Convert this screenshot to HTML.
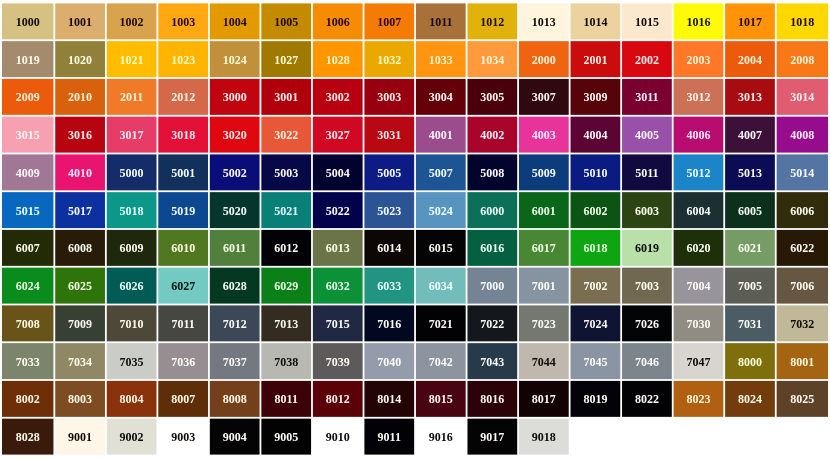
<!DOCTYPE html>
<html><head><meta charset="utf-8"><title>RAL</title>
<style>
html,body{margin:0;padding:0;background:#fff}
svg{display:block}
text{font-family:"Liberation Serif","Times New Roman",serif;font-weight:bold;font-size:12px;text-anchor:middle}
</style></head><body>
<svg width="830" height="458" viewBox="0 0 830 458">
<rect width="830" height="458" fill="#ffffff"/>
<rect x="2.00" y="3.40" width="51.43" height="35.95" fill="#D5C282"/><text fill="#120A00" x="27.71" y="25.88">1000</text>
<rect x="55.23" y="3.40" width="49.73" height="35.95" fill="#DCAE6E"/><text fill="#180800" x="80.09" y="25.88">1001</text>
<rect x="106.76" y="3.40" width="49.73" height="35.95" fill="#D9A24C"/><text fill="#1A0800" x="131.62" y="25.88">1002</text>
<rect x="158.29" y="3.40" width="49.73" height="35.95" fill="#FFA812"/><text fill="#230700" x="183.16" y="25.88">1003</text>
<rect x="209.82" y="3.40" width="49.73" height="35.95" fill="#E39A00"/><text fill="#200900" x="234.69" y="25.88">1004</text>
<rect x="261.35" y="3.40" width="49.73" height="35.95" fill="#C48A00"/><text fill="#1D0900" x="286.22" y="25.88">1005</text>
<rect x="312.88" y="3.40" width="49.73" height="35.95" fill="#F68C04"/><text fill="#270500" x="337.75" y="25.88">1006</text>
<rect x="364.41" y="3.40" width="49.73" height="35.95" fill="#F47C04"/><text fill="#290300" x="389.28" y="25.88">1007</text>
<rect x="415.94" y="3.40" width="49.73" height="35.95" fill="#A9713A"/><text fill="#1A0700" x="440.81" y="25.88">1011</text>
<rect x="467.47" y="3.40" width="49.73" height="35.95" fill="#E1B20C"/><text fill="#1B0B00" x="492.33" y="25.88">1012</text>
<rect x="519.00" y="3.40" width="49.73" height="35.95" fill="#FFF4DE"/><text fill="#0F0A01" x="543.87" y="25.88">1013</text>
<rect x="570.53" y="3.40" width="49.73" height="35.95" fill="#EBD29E"/><text fill="#130900" x="595.39" y="25.88">1014</text>
<rect x="622.06" y="3.40" width="49.73" height="35.95" fill="#FCE8CC"/><text fill="#110900" x="646.92" y="25.88">1015</text>
<rect x="673.59" y="3.40" width="49.73" height="35.95" fill="#FFFA08"/><text fill="#151200" x="698.45" y="25.88">1016</text>
<rect x="725.12" y="3.40" width="49.73" height="35.95" fill="#FF9408"/><text fill="#270500" x="749.99" y="25.88">1017</text>
<rect x="776.65" y="3.40" width="51.35" height="35.95" fill="#FFD800"/><text fill="#1B0E00" x="802.33" y="25.88">1018</text>
<rect x="2.00" y="41.15" width="51.43" height="35.95" fill="#A48B6E"/><text fill="#FFFBEC" x="27.71" y="63.62">1019</text>
<rect x="55.23" y="41.15" width="49.73" height="35.95" fill="#90803A"/><text fill="#FFFDE2" x="80.09" y="63.62">1020</text>
<rect x="106.76" y="41.15" width="49.73" height="35.95" fill="#FFBC00"/><text fill="#FFFCBE" x="131.62" y="63.62">1021</text>
<rect x="158.29" y="41.15" width="49.73" height="35.95" fill="#FFB400"/><text fill="#FFFBBF" x="183.16" y="63.62">1023</text>
<rect x="209.82" y="41.15" width="49.73" height="35.95" fill="#C0903A"/><text fill="#FFFBDB" x="234.69" y="63.62">1024</text>
<rect x="261.35" y="41.15" width="49.73" height="35.95" fill="#A07A00"/><text fill="#FFFDD2" x="286.22" y="63.62">1027</text>
<rect x="312.88" y="41.15" width="49.73" height="35.95" fill="#FF9600"/><text fill="#FFF8C4" x="337.75" y="63.62">1028</text>
<rect x="364.41" y="41.15" width="49.73" height="35.95" fill="#EBA800"/><text fill="#FFFCC3" x="389.28" y="63.62">1032</text>
<rect x="415.94" y="41.15" width="49.73" height="35.95" fill="#FF9410"/><text fill="#FFF7C9" x="440.81" y="63.62">1033</text>
<rect x="467.47" y="41.15" width="49.73" height="35.95" fill="#FF9A3C"/><text fill="#FFF6D4" x="492.33" y="63.62">1034</text>
<rect x="519.00" y="41.15" width="49.73" height="35.95" fill="#F06410"/><text fill="#FFF2D3" x="543.87" y="63.62">2000</text>
<rect x="570.53" y="41.15" width="49.73" height="35.95" fill="#CA0C0C"/><text fill="#FFEBE5" x="595.39" y="63.62">2001</text>
<rect x="622.06" y="41.15" width="49.73" height="35.95" fill="#D80810"/><text fill="#FFE9E5" x="646.92" y="63.62">2002</text>
<rect x="673.59" y="41.15" width="49.73" height="35.95" fill="#FF7828"/><text fill="#FFF2D4" x="698.45" y="63.62">2003</text>
<rect x="725.12" y="41.15" width="49.73" height="35.95" fill="#EC5A0C"/><text fill="#FFF1D4" x="749.99" y="63.62">2004</text>
<rect x="776.65" y="41.15" width="51.35" height="35.95" fill="#F87818"/><text fill="#FFF4D1" x="802.33" y="63.62">2008</text>
<rect x="2.00" y="78.90" width="51.43" height="35.95" fill="#EC5A0C"/><text fill="#FFF1D4" x="27.71" y="101.38">2009</text>
<rect x="55.23" y="78.90" width="49.73" height="35.95" fill="#D9600C"/><text fill="#FFF4D5" x="80.09" y="101.38">2010</text>
<rect x="106.76" y="78.90" width="49.73" height="35.95" fill="#F07A28"/><text fill="#FFF4D5" x="131.62" y="101.38">2011</text>
<rect x="158.29" y="78.90" width="49.73" height="35.95" fill="#D6684A"/><text fill="#FFF3E4" x="183.16" y="101.38">2012</text>
<rect x="209.82" y="78.90" width="49.73" height="35.95" fill="#C00410"/><text fill="#FFEBE8" x="234.69" y="101.38">3000</text>
<rect x="261.35" y="78.90" width="49.73" height="35.95" fill="#B0000C"/><text fill="#FFECE9" x="286.22" y="101.38">3001</text>
<rect x="312.88" y="78.90" width="49.73" height="35.95" fill="#B80010"/><text fill="#FFEBEA" x="337.75" y="101.38">3002</text>
<rect x="364.41" y="78.90" width="49.73" height="35.95" fill="#98000F"/><text fill="#FFEEEC" x="389.28" y="101.38">3003</text>
<rect x="415.94" y="78.90" width="49.73" height="35.95" fill="#640008"/><text fill="#FFF3EF" x="440.81" y="101.38">3004</text>
<rect x="467.47" y="78.90" width="49.73" height="35.95" fill="#4A000A"/><text fill="#FFF5F2" x="492.33" y="101.38">3005</text>
<rect x="519.00" y="78.90" width="49.73" height="35.95" fill="#300810"/><text fill="#FFF8F5" x="543.87" y="101.38">3007</text>
<rect x="570.53" y="78.90" width="49.73" height="35.95" fill="#56040A"/><text fill="#FFF4F0" x="595.39" y="101.38">3009</text>
<rect x="622.06" y="78.90" width="49.73" height="35.95" fill="#7A0030"/><text fill="#FFEFF8" x="646.92" y="101.38">3011</text>
<rect x="673.59" y="78.90" width="49.73" height="35.95" fill="#CC7058"/><text fill="#FFF5E7" x="698.45" y="101.38">3012</text>
<rect x="725.12" y="78.90" width="49.73" height="35.95" fill="#A80C10"/><text fill="#FFEEE9" x="749.99" y="101.38">3013</text>
<rect x="776.65" y="78.90" width="51.35" height="35.95" fill="#E05C70"/><text fill="#FFEFEF" x="802.33" y="101.38">3014</text>
<rect x="2.00" y="116.65" width="51.43" height="35.95" fill="#F7A0B2"/><text fill="#FFF4F3" x="27.71" y="139.12">3015</text>
<rect x="55.23" y="116.65" width="49.73" height="35.95" fill="#B80410"/><text fill="#FFEBE9" x="80.09" y="139.12">3016</text>
<rect x="106.76" y="116.65" width="49.73" height="35.95" fill="#E83C68"/><text fill="#FFEBF2" x="131.62" y="139.12">3017</text>
<rect x="158.29" y="116.65" width="49.73" height="35.95" fill="#E41038"/><text fill="#FFE8EE" x="183.16" y="139.12">3018</text>
<rect x="209.82" y="116.65" width="49.73" height="35.95" fill="#E00810"/><text fill="#FFE8E5" x="234.69" y="139.12">3020</text>
<rect x="261.35" y="116.65" width="49.73" height="35.95" fill="#E85838"/><text fill="#FFF0E0" x="286.22" y="139.12">3022</text>
<rect x="312.88" y="116.65" width="49.73" height="35.95" fill="#D00824"/><text fill="#FFE9EB" x="337.75" y="139.12">3027</text>
<rect x="364.41" y="116.65" width="49.73" height="35.95" fill="#B80814"/><text fill="#FFECE9" x="389.28" y="139.12">3031</text>
<rect x="415.94" y="116.65" width="49.73" height="35.95" fill="#9A4C8C"/><text fill="#FFF3FF" x="440.81" y="139.12">4001</text>
<rect x="467.47" y="116.65" width="49.73" height="35.95" fill="#A8042C"/><text fill="#FFECF2" x="492.33" y="139.12">4002</text>
<rect x="519.00" y="116.65" width="49.73" height="35.95" fill="#E8349A"/><text fill="#FFE8FF" x="543.87" y="139.12">4003</text>
<rect x="570.53" y="116.65" width="49.73" height="35.95" fill="#5C0434"/><text fill="#FFF2FB" x="595.39" y="139.12">4004</text>
<rect x="622.06" y="116.65" width="49.73" height="35.95" fill="#9850A8"/><text fill="#FFF3FF" x="646.92" y="139.12">4005</text>
<rect x="673.59" y="116.65" width="49.73" height="35.95" fill="#B80C70"/><text fill="#FFE9FF" x="698.45" y="139.12">4006</text>
<rect x="725.12" y="116.65" width="49.73" height="35.95" fill="#3C1038"/><text fill="#FFF7FD" x="749.99" y="139.12">4007</text>
<rect x="776.65" y="116.65" width="51.35" height="35.95" fill="#960C8C"/><text fill="#FFEBFF" x="802.33" y="139.12">4008</text>
<rect x="2.00" y="154.40" width="51.43" height="35.95" fill="#A07896"/><text fill="#FFF7FA" x="27.71" y="176.88">4009</text>
<rect x="55.23" y="154.40" width="49.73" height="35.95" fill="#E81470"/><text fill="#FFE6FB" x="80.09" y="176.88">4010</text>
<rect x="106.76" y="154.40" width="49.73" height="35.95" fill="#142C68"/><text fill="#F8FCFF" x="131.62" y="176.88">5000</text>
<rect x="158.29" y="154.40" width="49.73" height="35.95" fill="#12305C"/><text fill="#F7FDFF" x="183.16" y="176.88">5001</text>
<rect x="209.82" y="154.40" width="49.73" height="35.95" fill="#0A0C78"/><text fill="#FBF9FF" x="234.69" y="176.88">5002</text>
<rect x="261.35" y="154.40" width="49.73" height="35.95" fill="#060848"/><text fill="#FCFAFF" x="286.22" y="176.88">5003</text>
<rect x="312.88" y="154.40" width="49.73" height="35.95" fill="#02022E"/><text fill="#FEFBFF" x="337.75" y="176.88">5004</text>
<rect x="364.41" y="154.40" width="49.73" height="35.95" fill="#0C1C84"/><text fill="#F8FAFF" x="389.28" y="176.88">5005</text>
<rect x="415.94" y="154.40" width="49.73" height="35.95" fill="#1C5494"/><text fill="#F1FFFF" x="440.81" y="176.88">5007</text>
<rect x="467.47" y="154.40" width="49.73" height="35.95" fill="#02042E"/><text fill="#FDFBFF" x="492.33" y="176.88">5008</text>
<rect x="519.00" y="154.40" width="49.73" height="35.95" fill="#0C3C7C"/><text fill="#F3FEFF" x="543.87" y="176.88">5009</text>
<rect x="570.53" y="154.40" width="49.73" height="35.95" fill="#0A1C82"/><text fill="#F8FAFF" x="595.39" y="176.88">5010</text>
<rect x="622.06" y="154.40" width="49.73" height="35.95" fill="#100A40"/><text fill="#FEFAFF" x="646.92" y="176.88">5011</text>
<rect x="673.59" y="154.40" width="49.73" height="35.95" fill="#1C84C8"/><text fill="#E7FFFF" x="698.45" y="176.88">5012</text>
<rect x="725.12" y="154.40" width="49.73" height="35.95" fill="#0C0C54"/><text fill="#FDFAFF" x="749.99" y="176.88">5013</text>
<rect x="776.65" y="154.40" width="51.35" height="35.95" fill="#5474A4"/><text fill="#F7FDFF" x="802.33" y="176.88">5014</text>
<rect x="2.00" y="192.15" width="51.43" height="35.95" fill="#0868C0"/><text fill="#E8FFFF" x="27.71" y="214.62">5015</text>
<rect x="55.23" y="192.15" width="49.73" height="35.95" fill="#0C30A0"/><text fill="#F4FCFF" x="80.09" y="214.62">5017</text>
<rect x="106.76" y="192.15" width="49.73" height="35.95" fill="#0C9888"/><text fill="#E2FFFE" x="131.62" y="214.62">5018</text>
<rect x="158.29" y="192.15" width="49.73" height="35.95" fill="#0C4890"/><text fill="#F0FFFF" x="183.16" y="214.62">5019</text>
<rect x="209.82" y="192.15" width="49.73" height="35.95" fill="#04362E"/><text fill="#F5FFF8" x="234.69" y="214.62">5020</text>
<rect x="261.35" y="192.15" width="49.73" height="35.95" fill="#088078"/><text fill="#E6FFFF" x="286.22" y="214.62">5021</text>
<rect x="312.88" y="192.15" width="49.73" height="35.95" fill="#02024C"/><text fill="#FDFAFF" x="337.75" y="214.62">5022</text>
<rect x="364.41" y="192.15" width="49.73" height="35.95" fill="#2C5494"/><text fill="#F4FDFF" x="389.28" y="214.62">5023</text>
<rect x="415.94" y="192.15" width="49.73" height="35.95" fill="#5894C0"/><text fill="#F1FFFF" x="440.81" y="214.62">5024</text>
<rect x="467.47" y="192.15" width="49.73" height="35.95" fill="#0C7058"/><text fill="#EBFFF9" x="492.33" y="214.62">6000</text>
<rect x="519.00" y="192.15" width="49.73" height="35.95" fill="#0A6618"/><text fill="#EEFFE9" x="543.87" y="214.62">6001</text>
<rect x="570.53" y="192.15" width="49.73" height="35.95" fill="#0C5414"/><text fill="#F2FFEB" x="595.39" y="214.62">6002</text>
<rect x="622.06" y="192.15" width="49.73" height="35.95" fill="#2C4414"/><text fill="#FCFFEB" x="646.92" y="214.62">6003</text>
<rect x="673.59" y="192.15" width="49.73" height="35.95" fill="#1C3034"/><text fill="#FBFEF9" x="698.45" y="214.62">6004</text>
<rect x="725.12" y="192.15" width="49.73" height="35.95" fill="#0C301C"/><text fill="#F8FFF4" x="749.99" y="214.62">6005</text>
<rect x="776.65" y="192.15" width="51.35" height="35.95" fill="#302C0C"/><text fill="#FFFDED" x="802.33" y="214.62">6006</text>
<rect x="2.00" y="229.90" width="51.43" height="35.95" fill="#222A06"/><text fill="#FFFEED" x="27.71" y="252.38">6007</text>
<rect x="55.23" y="229.90" width="49.73" height="35.95" fill="#281C08"/><text fill="#FFFCF0" x="80.09" y="252.38">6008</text>
<rect x="106.76" y="229.90" width="49.73" height="35.95" fill="#1E280C"/><text fill="#FEFEEF" x="131.62" y="252.38">6009</text>
<rect x="158.29" y="229.90" width="49.73" height="35.95" fill="#507820"/><text fill="#FAFFE2" x="183.16" y="252.38">6010</text>
<rect x="209.82" y="229.90" width="49.73" height="35.95" fill="#50803C"/><text fill="#F7FFE8" x="234.69" y="252.38">6011</text>
<rect x="261.35" y="229.90" width="49.73" height="35.95" fill="#020206"/><text fill="#FFFCF7" x="286.22" y="252.38">6012</text>
<rect x="312.88" y="229.90" width="49.73" height="35.95" fill="#6A7446"/><text fill="#FEFEEB" x="337.75" y="252.38">6013</text>
<rect x="364.41" y="229.90" width="49.73" height="35.95" fill="#0C0604"/><text fill="#FFFCF5" x="389.28" y="252.38">6014</text>
<rect x="415.94" y="229.90" width="49.73" height="35.95" fill="#040404"/><text fill="#FFFCF6" x="440.81" y="252.38">6015</text>
<rect x="467.47" y="229.90" width="49.73" height="35.95" fill="#046040"/><text fill="#EDFFF6" x="492.33" y="252.38">6016</text>
<rect x="519.00" y="229.90" width="49.73" height="35.95" fill="#488834"/><text fill="#F4FFE5" x="543.87" y="252.38">6017</text>
<rect x="570.53" y="229.90" width="49.73" height="35.95" fill="#0EA412"/><text fill="#E4FFDD" x="595.39" y="252.38">6018</text>
<rect x="622.06" y="229.90" width="49.73" height="35.95" fill="#B8E0A8"/><text fill="#050F00" x="646.92" y="252.38">6019</text>
<rect x="673.59" y="229.90" width="49.73" height="35.95" fill="#1E300A"/><text fill="#FCFFED" x="698.45" y="252.38">6020</text>
<rect x="725.12" y="229.90" width="49.73" height="35.95" fill="#749C64"/><text fill="#F8FFEB" x="749.99" y="252.38">6021</text>
<rect x="776.65" y="229.90" width="51.35" height="35.95" fill="#281806"/><text fill="#FFFBF0" x="802.33" y="252.38">6022</text>
<rect x="2.00" y="267.65" width="51.43" height="35.95" fill="#0A8C1C"/><text fill="#E7FFE4" x="27.71" y="290.12">6024</text>
<rect x="55.23" y="267.65" width="49.73" height="35.95" fill="#2E740A"/><text fill="#F4FFE0" x="80.09" y="290.12">6025</text>
<rect x="106.76" y="267.65" width="49.73" height="35.95" fill="#005C54"/><text fill="#ECFFFC" x="131.62" y="290.12">6026</text>
<rect x="158.29" y="267.65" width="49.73" height="35.95" fill="#72CAC2"/><text fill="#00120E" x="183.16" y="290.12">6027</text>
<rect x="209.82" y="267.65" width="49.73" height="35.95" fill="#043820"/><text fill="#F5FFF4" x="234.69" y="290.12">6028</text>
<rect x="261.35" y="267.65" width="49.73" height="35.95" fill="#0C8018"/><text fill="#EAFFE5" x="286.22" y="290.12">6029</text>
<rect x="312.88" y="267.65" width="49.73" height="35.95" fill="#0C9038"/><text fill="#E6FFEA" x="337.75" y="290.12">6032</text>
<rect x="364.41" y="267.65" width="49.73" height="35.95" fill="#229482"/><text fill="#E8FFFB" x="389.28" y="290.12">6033</text>
<rect x="415.94" y="267.65" width="49.73" height="35.95" fill="#72BCBC"/><text fill="#EFFFFD" x="440.81" y="290.12">6034</text>
<rect x="467.47" y="267.65" width="49.73" height="35.95" fill="#748494"/><text fill="#FBFDFC" x="492.33" y="290.12">7000</text>
<rect x="519.00" y="267.65" width="49.73" height="35.95" fill="#8694A2"/><text fill="#FCFDFB" x="543.87" y="290.12">7001</text>
<rect x="570.53" y="267.65" width="49.73" height="35.95" fill="#7A6E52"/><text fill="#FFFCED" x="595.39" y="290.12">7002</text>
<rect x="622.06" y="267.65" width="49.73" height="35.95" fill="#706850"/><text fill="#FFFCEF" x="646.92" y="290.12">7003</text>
<rect x="673.59" y="267.65" width="49.73" height="35.95" fill="#98949C"/><text fill="#FFFBF8" x="698.45" y="290.12">7004</text>
<rect x="725.12" y="267.65" width="49.73" height="35.95" fill="#5C5E56"/><text fill="#FFFCF4" x="749.99" y="290.12">7005</text>
<rect x="776.65" y="267.65" width="51.35" height="35.95" fill="#665642"/><text fill="#FFFBEF" x="802.33" y="290.12">7006</text>
<rect x="2.00" y="305.40" width="51.43" height="35.95" fill="#685418"/><text fill="#FFFCE4" x="27.71" y="327.88">7008</text>
<rect x="55.23" y="305.40" width="49.73" height="35.95" fill="#384034"/><text fill="#FEFDF4" x="80.09" y="327.88">7009</text>
<rect x="106.76" y="305.40" width="49.73" height="35.95" fill="#4E4838"/><text fill="#FFFCF1" x="131.62" y="327.88">7010</text>
<rect x="158.29" y="305.40" width="49.73" height="35.95" fill="#464642"/><text fill="#FFFCF5" x="183.16" y="327.88">7011</text>
<rect x="209.82" y="305.40" width="49.73" height="35.95" fill="#3C4858"/><text fill="#FCFDFB" x="234.69" y="327.88">7012</text>
<rect x="261.35" y="305.40" width="49.73" height="35.95" fill="#342C20"/><text fill="#FFFCF2" x="286.22" y="327.88">7013</text>
<rect x="312.88" y="305.40" width="49.73" height="35.95" fill="#202844"/><text fill="#FCFCFE" x="337.75" y="327.88">7015</text>
<rect x="364.41" y="305.40" width="49.73" height="35.95" fill="#020820"/><text fill="#FDFCFD" x="389.28" y="327.88">7016</text>
<rect x="415.94" y="305.40" width="49.73" height="35.95" fill="#020204"/><text fill="#FFFCF7" x="440.81" y="327.88">7021</text>
<rect x="467.47" y="305.40" width="49.73" height="35.95" fill="#14181C"/><text fill="#FEFCF7" x="492.33" y="327.88">7022</text>
<rect x="519.00" y="305.40" width="49.73" height="35.95" fill="#747870"/><text fill="#FEFDF4" x="543.87" y="327.88">7023</text>
<rect x="570.53" y="305.40" width="49.73" height="35.95" fill="#0E1432"/><text fill="#FDFCFF" x="595.39" y="327.88">7024</text>
<rect x="622.06" y="305.40" width="49.73" height="35.95" fill="#020406"/><text fill="#FFFCF7" x="646.92" y="327.88">7026</text>
<rect x="673.59" y="305.40" width="49.73" height="35.95" fill="#908C84"/><text fill="#FFFCF4" x="698.45" y="327.88">7030</text>
<rect x="725.12" y="305.40" width="49.73" height="35.95" fill="#4C5C64"/><text fill="#FBFDFA" x="749.99" y="327.88">7031</text>
<rect x="776.65" y="305.40" width="51.35" height="35.95" fill="#C0B898"/><text fill="#0F0A00" x="802.33" y="327.88">7032</text>
<rect x="2.00" y="343.15" width="51.43" height="35.95" fill="#7C846C"/><text fill="#FEFEF0" x="27.71" y="365.62">7033</text>
<rect x="55.23" y="343.15" width="49.73" height="35.95" fill="#908864"/><text fill="#FFFCEC" x="80.09" y="365.62">7034</text>
<rect x="106.76" y="343.15" width="49.73" height="35.95" fill="#CACCC8"/><text fill="#0C0A07" x="131.62" y="365.62">7035</text>
<rect x="158.29" y="343.15" width="49.73" height="35.95" fill="#968E90"/><text fill="#FFFBF6" x="183.16" y="365.62">7036</text>
<rect x="209.82" y="343.15" width="49.73" height="35.95" fill="#747880"/><text fill="#FEFCF8" x="234.69" y="365.62">7037</text>
<rect x="261.35" y="343.15" width="49.73" height="35.95" fill="#B8B8B2"/><text fill="#0C0A06" x="286.22" y="365.62">7038</text>
<rect x="312.88" y="343.15" width="49.73" height="35.95" fill="#5C5A5A"/><text fill="#FFFCF6" x="337.75" y="365.62">7039</text>
<rect x="364.41" y="343.15" width="49.73" height="35.95" fill="#949CAC"/><text fill="#FDFCFB" x="389.28" y="365.62">7040</text>
<rect x="415.94" y="343.15" width="49.73" height="35.95" fill="#8C94A0"/><text fill="#FDFCFA" x="440.81" y="365.62">7042</text>
<rect x="467.47" y="343.15" width="49.73" height="35.95" fill="#263A4A"/><text fill="#FAFDFC" x="492.33" y="365.62">7043</text>
<rect x="519.00" y="343.15" width="49.73" height="35.95" fill="#C0B8AE"/><text fill="#0E0A05" x="543.87" y="365.62">7044</text>
<rect x="570.53" y="343.15" width="49.73" height="35.95" fill="#8A94A2"/><text fill="#FCFCFB" x="595.39" y="365.62">7045</text>
<rect x="622.06" y="343.15" width="49.73" height="35.95" fill="#7C848C"/><text fill="#FDFCF9" x="646.92" y="365.62">7046</text>
<rect x="673.59" y="343.15" width="49.73" height="35.95" fill="#D8D4D0"/><text fill="#0D0A07" x="698.45" y="365.62">7047</text>
<rect x="725.12" y="343.15" width="49.73" height="35.95" fill="#7E6E0C"/><text fill="#FFFEDA" x="749.99" y="365.62">8000</text>
<rect x="776.65" y="343.15" width="51.35" height="35.95" fill="#A46412"/><text fill="#FFF9DA" x="802.33" y="365.62">8001</text>
<rect x="2.00" y="380.90" width="51.43" height="35.95" fill="#6E2E08"/><text fill="#FFF7E6" x="27.71" y="403.38">8002</text>
<rect x="55.23" y="380.90" width="49.73" height="35.95" fill="#7E4C22"/><text fill="#FFF9E6" x="80.09" y="403.38">8003</text>
<rect x="106.76" y="380.90" width="49.73" height="35.95" fill="#8A320C"/><text fill="#FFF5E4" x="131.62" y="403.38">8004</text>
<rect x="158.29" y="380.90" width="49.73" height="35.95" fill="#5E2E08"/><text fill="#FFF9E8" x="183.16" y="403.38">8007</text>
<rect x="209.82" y="380.90" width="49.73" height="35.95" fill="#74401C"/><text fill="#FFF9E8" x="234.69" y="403.38">8008</text>
<rect x="261.35" y="380.90" width="49.73" height="35.95" fill="#3C0208"/><text fill="#FFF7F2" x="286.22" y="403.38">8011</text>
<rect x="312.88" y="380.90" width="49.73" height="35.95" fill="#5A0208"/><text fill="#FFF4F0" x="337.75" y="403.38">8012</text>
<rect x="364.41" y="380.90" width="49.73" height="35.95" fill="#220404"/><text fill="#FFF9F3" x="389.28" y="403.38">8014</text>
<rect x="415.94" y="380.90" width="49.73" height="35.95" fill="#480410"/><text fill="#FFF5F3" x="440.81" y="403.38">8015</text>
<rect x="467.47" y="380.90" width="49.73" height="35.95" fill="#2A0208"/><text fill="#FFF8F4" x="492.33" y="403.38">8016</text>
<rect x="519.00" y="380.90" width="49.73" height="35.95" fill="#120204"/><text fill="#FFFAF5" x="543.87" y="403.38">8017</text>
<rect x="570.53" y="380.90" width="49.73" height="35.95" fill="#020208"/><text fill="#FFFCF8" x="595.39" y="403.38">8019</text>
<rect x="622.06" y="380.90" width="49.73" height="35.95" fill="#020204"/><text fill="#FFFCF7" x="646.92" y="403.38">8022</text>
<rect x="673.59" y="380.90" width="49.73" height="35.95" fill="#B06010"/><text fill="#FFF7D9" x="698.45" y="403.38">8023</text>
<rect x="725.12" y="380.90" width="49.73" height="35.95" fill="#723C0C"/><text fill="#FFF9E4" x="749.99" y="403.38">8024</text>
<rect x="776.65" y="380.90" width="51.35" height="35.95" fill="#5E4228"/><text fill="#FFFAED" x="802.33" y="403.38">8025</text>
<rect x="2.00" y="418.65" width="51.43" height="35.95" fill="#3A1A0A"/><text fill="#FFFAEF" x="27.71" y="441.12">8028</text>
<rect x="55.23" y="418.65" width="49.73" height="35.95" fill="#FEF6E6"/><text fill="#0E0A03" x="80.09" y="441.12">9001</text>
<rect x="106.76" y="418.65" width="49.73" height="35.95" fill="#E0E0D4"/><text fill="#0C0A05" x="131.62" y="441.12">9002</text>
<rect x="158.29" y="418.65" width="49.73" height="35.95" fill="#FFFFFF"/><text fill="#0C0A08" x="183.16" y="441.12">9003</text>
<rect x="209.82" y="418.65" width="49.73" height="35.95" fill="#040404"/><text fill="#FFFCF6" x="234.69" y="441.12">9004</text>
<rect x="261.35" y="418.65" width="49.73" height="35.95" fill="#020202"/><text fill="#FFFCF6" x="286.22" y="441.12">9005</text>
<rect x="312.88" y="418.65" width="49.73" height="35.95" fill="#FFFFFF"/><text fill="#0C0A08" x="337.75" y="441.12">9010</text>
<rect x="364.41" y="418.65" width="49.73" height="35.95" fill="#020206"/><text fill="#FFFCF7" x="389.28" y="441.12">9011</text>
<rect x="415.94" y="418.65" width="49.73" height="35.95" fill="#FFFFFF"/><text fill="#0C0A08" x="440.81" y="441.12">9016</text>
<rect x="467.47" y="418.65" width="49.73" height="35.95" fill="#040404"/><text fill="#FFFCF6" x="492.33" y="441.12">9017</text>
<rect x="519.00" y="418.65" width="49.73" height="35.95" fill="#DCDCD8"/><text fill="#0C0A07" x="543.87" y="441.12">9018</text>
</svg>
</body></html>
